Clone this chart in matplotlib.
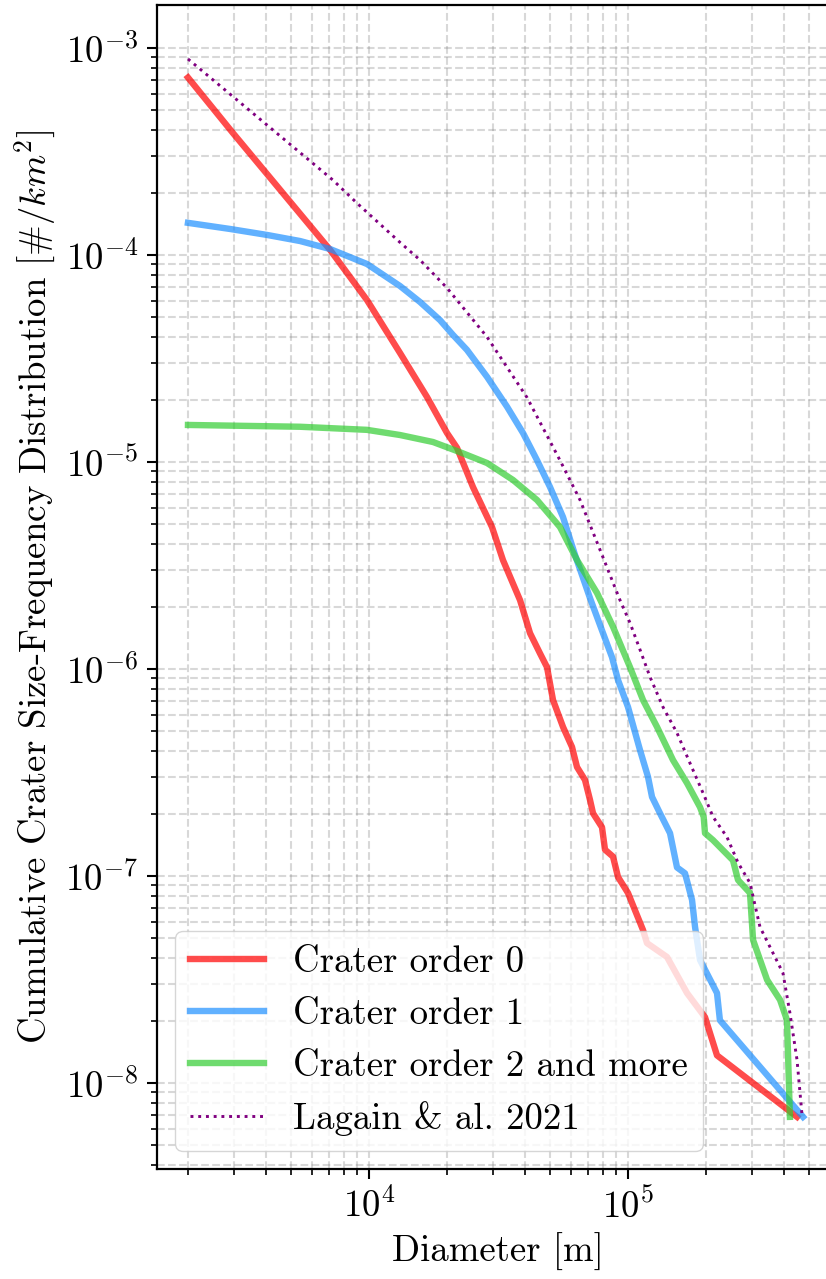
import matplotlib
matplotlib.use("Agg")
import matplotlib.pyplot as plt

plt.rcParams.update({
    "font.family": "serif",
    "font.serif": ["cmr10"],
    "mathtext.fontset": "cm",
    "axes.formatter.use_mathtext": True,
    "font.size": 26.5,
    "axes.unicode_minus": True,
})

# Cumulative crater size-frequency distributions (diameter in m, density in #/km^2)
d_order0 = [2000, 2985, 7070, 9820, 13180, 16750, 20010, 21870,
            25200, 29850, 32900, 38300, 41850, 45730, 48680, 51340, 56110,
            60790, 63550, 68230, 71340, 73270, 79360, 81510, 87530, 91500,
            100000, 114290, 118400, 141500, 169000, 198300, 220600, 449500]
n_order0 = [7.2e-4, 3.88e-4, 1.06e-4, 6.06e-5, 3.36e-5,
            2.06e-5, 1.38e-5, 1.17e-5, 7.57e-6, 4.85e-6, 3.36e-6, 2.15e-6,
            1.49e-6, 1.19e-6, 1.02e-6, 7.08e-7, 5.25e-7, 4.20e-7, 3.36e-7,
            2.91e-7, 2.33e-7, 2.01e-7, 1.72e-7, 1.34e-7, 1.24e-7, 9.89e-8,
            8.28e-8, 5.48e-8, 4.74e-8, 4.06e-8, 2.72e-8, 2.08e-8, 1.36e-8,
            6.86e-9]

d_order1 = [2000, 2906, 4040, 5420, 7070, 9820, 13180, 15740, 18790, 21100,
            23890, 28550, 34110, 39330, 44540, 49990, 56110, 62430, 71340,
            80080, 86740, 91500, 100000, 111250, 119480, 123800, 132900,
            145300, 154600, 166000, 176700, 181500, 189700, 220600, 226400,
            474000]
n_order1 = [1.43e-4, 1.336e-4, 1.25e-4, 1.168e-4, 1.069e-4, 9.05e-5, 7.08e-5,
            5.93e-5, 4.85e-5, 4.11e-5, 3.48e-5, 2.58e-5, 1.85e-5, 1.38e-5,
            1.02e-5, 7.57e-6, 5.42e-6, 3.56e-6, 2.20e-6, 1.49e-6, 1.14e-6,
            8.85e-7, 6.55e-7, 4.06e-7, 3.01e-7, 2.41e-7, 2.01e-7, 1.61e-7,
            1.10e-7, 1.03e-7, 7.66e-8, 5.67e-8, 3.93e-8, 2.72e-8, 2.01e-8,
            6.86e-9]

d_order2 = [2000, 5420, 9820, 13180, 17670, 21870, 28550, 35970, 44540, 54630,
            63550, 75920, 87530, 101800, 114290, 129430, 149200, 169000,
            189700, 196000, 198300, 213000, 254300, 265900, 295800, 304000,
            344300, 386400, 411100, 421800]
n_order2 = [1.51e-5, 1.48e-5, 1.43e-5, 1.35e-5, 1.249e-5, 1.13e-5, 9.89e-6,
            8.19e-6, 6.55e-6, 4.85e-6, 3.36e-6, 2.33e-6, 1.60e-6, 1.02e-6,
            7.08e-7, 5.25e-7, 3.63e-7, 2.81e-7, 2.15e-7, 1.93e-7, 1.61e-7,
            1.49e-7, 1.19e-7, 9.57e-8, 8.28e-8, 4.91e-8, 3.15e-8, 2.52e-8,
            2.01e-8, 6.86e-9]

d_lagain = [2000, 7260, 8990, 13180, 15740, 20010, 28550, 40740, 54600,
            65300, 78000, 93140, 101800, 111250, 121620, 136500, 154600,
            173500, 194800, 213000, 241200, 265900, 295800, 323300, 353300,
            396500, 421800, 449500, 469800]
n_lagain = [8.85e-4, 2.30e-4, 1.78e-4, 1.15e-4, 9.46e-5, 6.93e-5, 4.02e-5,
            2.05e-5, 1.02e-5, 6.55e-6, 3.76e-6, 2.15e-6, 1.67e-6, 1.24e-6,
            9.15e-7, 6.55e-7, 4.91e-7, 3.51e-7, 2.52e-7, 1.93e-7, 1.54e-7,
            1.16e-7, 9.25e-8, 5.67e-8, 4.54e-8, 3.40e-8, 2.18e-8, 1.29e-8,
            7.0e-9]

W, H = 826, 1279
fig = plt.figure(figsize=(W / 100, H / 100), dpi=100)
left, right, bottom, top = 157, 838, 1169, 5
ax = fig.add_axes([left / W, 1 - bottom / H, (right - left) / W, (bottom - top) / H])

ax.set_xscale("log")
ax.set_yscale("log")

ax.plot(d_order0, n_order0, color="red", alpha=0.7, lw=4.6, label="Crater order 0")
ax.plot(d_order1, n_order1, color="dodgerblue", alpha=0.7, lw=4.6, label="Crater order 1")
ax.plot(d_order2, n_order2, color="limegreen", alpha=0.7, lw=4.6,
        label="Crater order 2 and more")
ax.plot(d_lagain, n_lagain, color="purple", ls=":", lw=2.1, label="Lagain & al. 2021")

ax.set_xlim(10 ** (4 - 212 / 259), 10 ** (4 + (right - 369) / 259))
ax.set_ylim(10 ** (-3 - (bottom - 48) / 207), 10 ** (-3 + (48 - top) / 207))

ax.grid(True, which="both", ls="--", color="0.5", alpha=0.3, lw=1.5)
ax.set_axisbelow(True)

for s in ax.spines.values():
    s.set_linewidth(1.6)
ax.tick_params(which="major", length=7.5, width=1.5, pad=6)
ax.tick_params(which="minor", length=4, width=1.2)

ax.set_xlabel("Diameter [m]", labelpad=6)
ax.set_ylabel(r"Cumulative Crater Size-Frequency Distribution [$\#/km^2$]", labelpad=6)

ax.legend(loc="lower left")

fig.savefig("out.png", dpi=100)
